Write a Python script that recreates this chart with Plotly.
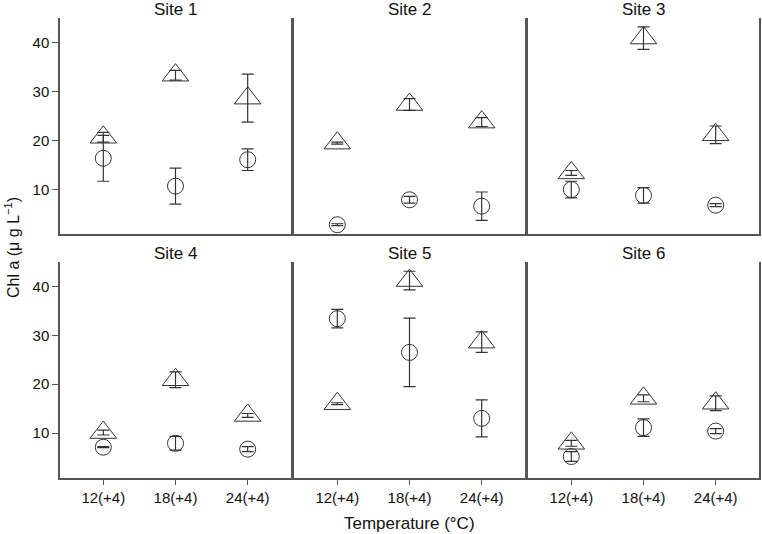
import plotly.graph_objects as go
from plotly.subplots import make_subplots

# ---- data ----
temperatures = ["12(+4)", "18(+4)", "24(+4)"]
sites = ["Site 1", "Site 2", "Site 3", "Site 4", "Site 5", "Site 6"]

circle_mean = [
    [16.4, 10.7, 16.1],
    [2.8, 7.9, 6.6],
    [10.0, 8.8, 6.8],
    [7.1, 7.9, 6.7],
    [33.4, 26.5, 13.0],
    [5.2, 11.1, 10.4],
]
circle_err = [
    [4.7, 3.7, 2.2],
    [0.2, 0.7, 2.9],
    [1.7, 1.6, 0.3],
    [0.1, 1.4, 0.5],
    [1.9, 7.0, 3.8],
    [1.0, 1.8, 0.5],
]
triangle_mean = [
    [20.7, 33.4, 28.7],
    [19.5, 27.4, 23.8],
    [13.4, 41.0, 21.2],
    [10.1, 20.9, 13.6],
    [16.0, 41.2, 28.6],
    [7.9, 17.1, 16.1],
]
triangle_err = [
    [1.0, 1.0, 4.9],
    [0.2, 1.2, 0.9],
    [0.5, 2.3, 1.8],
    [0.5, 1.6, 0.4],
    [0.2, 1.9, 2.1],
    [0.6, 0.7, 1.5],
]
y_ticks = [10, 20, 30, 40]

INK = "#333333"
AXIS = "#555555"
TEXT = "#111111"
FONT = "Liberation Sans, Arial, sans-serif"

fig = make_subplots(
    rows=2, cols=3,
    subplot_titles=sites,
    horizontal_spacing=0.0043,
    vertical_spacing=0.0587,
)

for i, site in enumerate(sites):
    row, col = i // 3 + 1, i % 3 + 1
    fig.add_trace(go.Scatter(
        x=temperatures, y=circle_mean[i], mode="markers",
        marker=dict(symbol="circle-open", size=16, color=INK, line=dict(width=1, color=INK)),
        error_y=dict(type="data", array=circle_err[i], color=INK, thickness=1.2, width=6),
        showlegend=False,
    ), row=row, col=col)
    fig.add_trace(go.Scatter(
        x=temperatures, y=triangle_mean[i], mode="markers",
        marker=dict(symbol="triangle-up-open", size=23, color=INK, line=dict(width=1, color=INK)),
        error_y=dict(type="data", array=triangle_err[i], color=INK, thickness=1.2, width=6),
        showlegend=False,
    ), row=row, col=col)

fig.update_xaxes(
    type="category", categoryorder="array", categoryarray=temperatures,
    range=[-0.6, 2.6], showgrid=False, zeroline=False,
    showline=True, linecolor=AXIS, linewidth=1.5,
    showticklabels=False, ticks="",
)
fig.update_xaxes(row=2, showticklabels=True, ticks="outside", ticklen=5,
                 tickcolor=AXIS, tickfont=dict(size=15, color=TEXT, family=FONT))

fig.update_yaxes(
    range=[0.8, 45.1], tickvals=y_ticks, showgrid=False, zeroline=False,
    showline=True, mirror=True, linecolor=AXIS, linewidth=1.5,
    showticklabels=False, ticks="",
)
fig.update_yaxes(col=1, showticklabels=True, ticks="outside", ticklen=6,
                 tickcolor=AXIS, tickfont=dict(size=15, color=TEXT, family=FONT))

for ann in fig.layout.annotations:
    ann.font = dict(size=17, color=TEXT, family=FONT)
    ann.yshift = -3

fig.add_annotation(
    text="Chl a (μ g L<sup>−1</sup>)", textangle=-90,
    xref="paper", yref="paper", x=0, y=0.5, xanchor="center", yanchor="middle",
    xshift=-48, showarrow=False, font=dict(size=16, color=TEXT, family=FONT),
)
fig.add_annotation(
    text="Temperature (°C)",
    xref="paper", yref="paper", x=0.5, y=0, xanchor="center", yanchor="middle",
    yshift=-45, showarrow=False, font=dict(size=17, color=TEXT, family=FONT),
)

fig.update_layout(
    width=762, height=534,
    margin=dict(l=60, r=1, t=18, b=56),
    template="simple_white",
    paper_bgcolor="white", plot_bgcolor="white",
    font=dict(family=FONT, color=TEXT),
)

fig.write_html(
    "out.html",
    config={"displayModeBar": False},
    post_script="document.body.style.margin='0';document.body.style.overflow='hidden';",
)
